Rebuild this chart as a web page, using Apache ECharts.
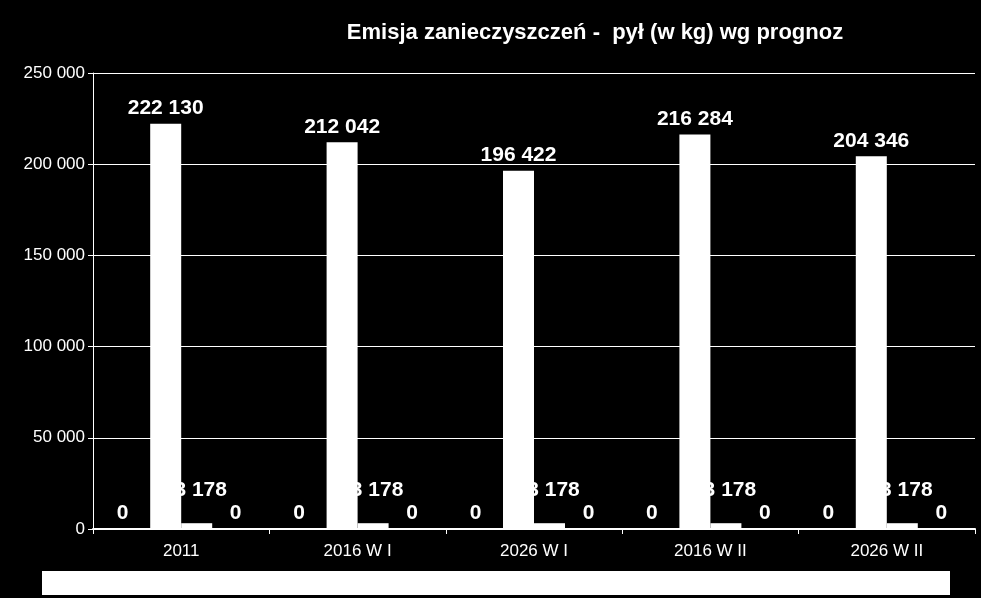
<!DOCTYPE html>
<html><head><meta charset="utf-8">
<script src="https://cdn.jsdelivr.net/npm/echarts@6/dist/echarts.min.js"></script>
<style>html,body{margin:0;background:#000}#c{width:981px;height:598px}</style>
</head><body><div id="c"></div>
<script>
const categories = ['2011','2016 W I','2026 W I','2016 W II','2026 W II'];
const seriesA = [0,0,0,0,0];
const seriesB = [222130,212042,196422,216284,204346];
const seriesC = [3178,3178,3178,3178,3178];
const seriesD = [0,0,0,0,0];
const yTicks = [0,50000,100000,150000,200000,250000];
const fmt = v => String(v).replace(/\B(?=(\d{3})+(?!\d))/g,' ');
const lbl = (off) => ({show:true,position:'top',offset:off,color:'#fff',fontSize:21,fontWeight:'bold',fontFamily:'Liberation Sans',formatter:p=>fmt(p.value)});
const mk = (name,data,off) => ({name,type:'bar',data,barWidth:31,barGap:'0%',itemStyle:{color:'#fff'},label:lbl(off)});
const chart = echarts.init(document.getElementById('c'));
chart.setOption({
  backgroundColor:'#000', animation:false,
  title:{text:'Emisja zanieczyszczeń -  pył (w kg) wg prognoz',left:590,top:17,textAlign:'center',
    textStyle:{color:'#fff',fontSize:22,fontWeight:'bold',fontFamily:'Liberation Sans'}},
  grid:{left:93,right:6,top:73,bottom:69},
  xAxis:{type:'category',data:categories,axisLine:{lineStyle:{color:'#fff',width:2}},
    axisTick:{show:true,lineStyle:{color:'#fff'}},
    axisLabel:{color:'#fff',fontSize:17,fontFamily:'Liberation Sans',margin:14}},
  yAxis:{type:'value',min:0,max:yTicks[yTicks.length-1],interval:50000,
    axisLine:{show:true,lineStyle:{color:'#fff'}},axisTick:{show:true,lineStyle:{color:'#fff'}},
    splitLine:{lineStyle:{color:'#fff'}},
    axisLabel:{color:'#fff',fontSize:17,fontFamily:'Liberation Sans',formatter:v=>fmt(v)}},
  graphic:[{type:'rect',shape:{x:42,y:571,width:908,height:24},style:{fill:'#fff'}}],
  series:[mk('A',seriesA,[-12,0]),mk('B',seriesB,[0,0]),mk('C',seriesC,[4,-18]),mk('D',seriesD,[8,0])]
});
</script></body></html>
